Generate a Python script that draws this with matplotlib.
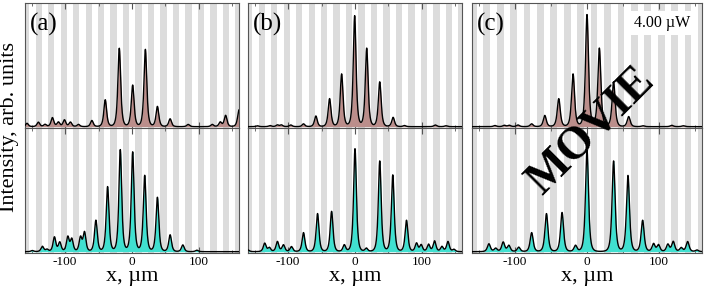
import numpy as np
import matplotlib.pyplot as plt

plt.rcParams['font.family'] = ['Liberation Serif', 'DejaVu Serif']
plt.rcParams['axes.unicode_minus'] = False

# peak positions (um) and heights (arb. units)
a_top_pos = [-157, -140, -130, -119, -110, -101, -92, -80, -60, -40, -19, 1, 20, 38, 57, 84, 120, 132, 140, 160]
a_top_amp = [0.03, 0.04, 0.02, 0.08, 0.04, 0.06, 0.04, 0.02, 0.055, 0.24, 0.70, 0.37, 0.69, 0.18, 0.07, 0.02, 0.02, 0.04, 0.10, 0.15]

a_bot_pos = [-149, -134, -127, -116, -108, -96, -90, -77, -71, -54, -36.5, -17.5, 1, 19, 38, 57, 76, 97]
a_bot_amp = [0.01, 0.047, 0.02, 0.13, 0.083, 0.13, 0.11, 0.125, 0.17, 0.28, 0.58, 0.91, 0.89, 0.68, 0.485, 0.15, 0.06, 0.013]

b_top_pos = [-146, -127, -116, -110, -96, -77, -58.5, -38, -20, -0.5, 17.5, 37, 57, 74, 120, 136]
b_top_amp = [0.008, 0.01, 0.015, 0.015, 0.015, 0.025, 0.095, 0.25, 0.47, 0.99, 0.70, 0.40, 0.083, 0.01, 0.015, 0.008]

b_bot_pos = [-160, -135, -128, -116, -107, -95, -77, -56, -35, -16, 0, 17, 37, 56.5, 77, 92, 99, 110, 119, 130, 139, 148]
b_bot_amp = [0.015, 0.075, 0.035, 0.09, 0.06, 0.045, 0.17, 0.34, 0.36, 0.06, 0.92, 0.03, 0.81, 0.685, 0.28, 0.075, 0.06, 0.065, 0.095, 0.045, 0.09, 0.02]

c_top_pos = [-128, -115, -108, -96, -77, -58.7, -39.3, -19.4, 0, 17.2, 37, 58, 78, 118, 134]
c_top_amp = [0.01, 0.012, 0.012, 0.015, 0.025, 0.10, 0.25, 0.47, 1.0, 0.70, 0.40, 0.09, 0.008, 0.012, 0.008]

c_bot_pos = [-136.5, -127, -116.6, -108.7, -95, -77, -56.4, -34.7, -16, 0, 37, 57, 77.4, 92.6, 99.5, 112.5, 120, 131, 140, 153]
c_bot_amp = [0.07, 0.03, 0.085, 0.055, 0.04, 0.17, 0.34, 0.35, 0.055, 0.91, 0.81, 0.68, 0.28, 0.07, 0.06, 0.065, 0.09, 0.035, 0.09, 0.015]

panels = [
    ('(a)', (a_top_pos, a_top_amp), (a_bot_pos, a_bot_amp)),
    ('(b)', (b_top_pos, b_top_amp), (b_bot_pos, b_bot_amp)),
    ('(c)', (c_top_pos, c_top_amp), (c_bot_pos, c_bot_amp)),
]

x = np.linspace(-165, 165, 3000)
period = 18.66


def profile(pos, amp, w=3.8):
    y = np.zeros_like(x)
    for p, h in zip(pos, amp):
        y += h / (1 + ((x - p) / w) ** 2) ** 2
    return y


def style(ax, bottom_labels):
    for k in range(-10, 10):
        c = 0.5 + (k + 0.5) * period
        ax.axvspan(c - 4.7, c + 4.7, color='#dcdcdc', lw=0, zorder=0)
    ax.set_xlim(-160, 160)
    ax.set_ylim(-0.012, 1.105)
    ax.set_yticks([])
    ax.set_xticks([-100, 0, 100])
    ax.set_xticks([-150, -50, 50, 150], minor=True)
    ax.tick_params(axis='x', which='both', direction='in', top=True, bottom=True,
                   color='#555555', labelsize=9.5, pad=2, labelbottom=bottom_labels)
    ax.tick_params(axis='x', which='major', length=4)
    ax.tick_params(axis='x', which='minor', length=2.5)
    for s in ax.spines.values():
        s.set_color('#555555')
        s.set_linewidth(0.8)


W, H = 706, 288
lefts = [25, 248, 472]
widths = [214, 214, 230]

fig = plt.figure(figsize=(7.06, 2.88), dpi=100)

for (tag, top, bot), l, w in zip(panels, lefts, widths):
    ax_t = fig.add_axes([l / W, 1 - 128 / H, w / W, 125 / H])
    ax_b = fig.add_axes([l / W, 1 - 253 / H, w / W, 125 / H])

    yt = profile(*top)
    ax_t.fill_between(x, 0, yt, color='#bb8e8b', lw=0, zorder=2)
    ax_t.plot(x, yt, color='black', lw=1.0, zorder=3)
    style(ax_t, False)
    ax_t.text(0.022, 0.83, tag, transform=ax_t.transAxes, fontsize=18,
              ha='left', va='center', zorder=5)

    yb = profile(*bot)
    ax_b.fill_between(x, 0, yb, color='#40e0d0', lw=0, zorder=2)
    ax_b.plot(x, yb, color='black', lw=1.0, zorder=3)
    style(ax_b, True)
    fig.text((l + w / 2) / W, 1 - 281 / H, 'x, µm', fontsize=16,
             ha='center', va='baseline')

    if tag == '(c)':
        ax_t.text(0.826, 0.84, '4.00 µW', transform=ax_t.transAxes, fontsize=11.5,
                  ha='center', va='center', zorder=6,
                  bbox=dict(facecolor='white', edgecolor='none', pad=3))

fig.text(9.5 / W, 1 - 127.5 / H, 'Intensity, arb. units', rotation=90,
         fontsize=16, ha='center', va='center')

fig.text(591 / W, 1 - 131 / H, 'MOVIE', rotation=45, fontsize=33,
         fontweight='bold', ha='center', va='center', zorder=10)

fig.savefig('out.png', dpi=100)
